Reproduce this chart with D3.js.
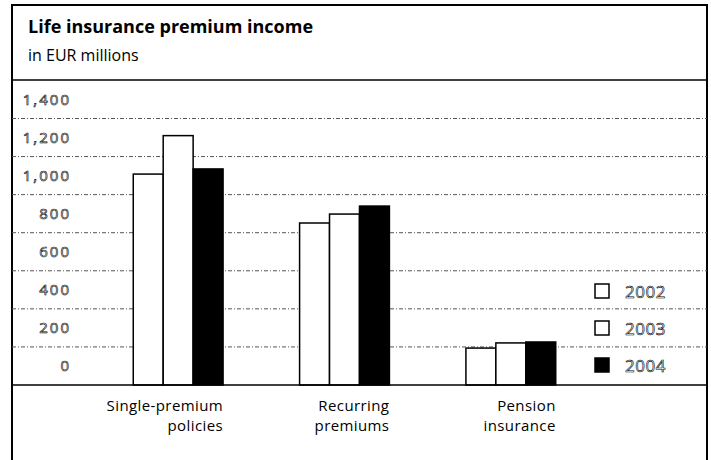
<!DOCTYPE html>
<html>
<head>
<meta charset="utf-8">
<script src="https://cdn.jsdelivr.net/npm/d3@7"></script>
<style>
  body { margin: 0; background: #fff; }
  svg text { font-family: "Open Sans", "Noto Sans", sans-serif; }
</style>
</head>
<body>
<div id="chart"></div>
<script>
// categories and series (EUR millions)
var categories = [["Single-premium", "policies"], ["Recurring", "premiums"], ["Pension", "insurance"]]
var years = ["2002", "2003", "2004"]
var values2002 = [1108, 851, 194]
var values2003 = [1310, 898, 221]
var values2004 = [1135, 940, 226]
var yTicks = [0, 200, 400, 600, 800, 1000, 1200, 1400]

var series = [values2002, values2003, values2004]
var fills = ["#fff", "#fff", "#000"]

var width = 711, height = 460
var svg = d3.select("#chart").append("svg")
    .attr("width", width)
    .attr("height", height)

// outer frame
var frameL = 12, frameR = 707, frameT = 5
svg.append("path")
    .attr("d", "M" + frameL + "," + (height + 5) + "V" + frameT + "H" + frameR + "V" + (height + 5))
    .attr("fill", "none")
    .attr("stroke", "#000")
    .attr("stroke-width", 2)

// title
svg.append("text")
    .attr("x", 28).attr("y", 33)
    .attr("font-size", 18).attr("font-weight", "bold")
    .text("Life insurance premium income")
svg.append("text")
    .attr("x", 28).attr("y", 61)
    .attr("font-size", 16)
    .text("in EUR millions")

// header separator
svg.append("line")
    .attr("x1", frameL).attr("x2", frameR)
    .attr("y1", 80).attr("y2", 80)
    .attr("stroke", "#000").attr("stroke-width", 1.5)

// scales
var y = d3.scaleLinear().domain([0, 1400]).range([385, 118.5])
var x0 = d3.scaleBand()
    .domain(d3.range(categories.length))
    .range([95, 594])
    .paddingInner(0.46)
    .paddingOuter(0.23)
var x1 = d3.scaleBand().domain(years).range([0, x0.bandwidth()])

// gridlines
svg.append("g").selectAll("line")
  .data(yTicks.filter(function(d) { return d > 0 }))
  .enter().append("line")
    .attr("x1", frameL).attr("x2", frameR)
    .attr("y1", function(d) { return y(d) }).attr("y2", function(d) { return y(d) })
    .attr("stroke", "#555")
    .attr("stroke-width", 1)
    .attr("stroke-dasharray", "4,2,1,2")

// y labels (sit in the band above their line), hollow look
svg.append("g").selectAll("text")
  .data(yTicks)
  .enter().append("text")
    .attr("x", 71)
    .attr("y", function(d) { return y(d) - 14 })
    .attr("text-anchor", "end")
    .attr("font-family", "DejaVu Sans")
    .attr("font-size", 15)
    .attr("letter-spacing", 2)
    .attr("fill", "#fff")
    .attr("stroke", "#000")
    .attr("stroke-width", 0.6)
    .text(function(d) { return d3.format(",")(d) })

// bars
var groups = svg.append("g").selectAll("g")
  .data(categories)
  .enter().append("g")
    .attr("transform", function(d, i) { return "translate(" + x0(i) + ",0)" })

groups.selectAll("rect")
  .data(function(d, i) { return years.map(function(yr, j) { return {year: yr, j: j, value: series[j][i]} }) })
  .enter().append("rect")
    .attr("x", function(d) { return x1(d.year) })
    .attr("width", x1.bandwidth())
    .attr("y", function(d) { return y(d.value) })
    .attr("height", function(d) { return y(0) - y(d.value) })
    .attr("fill", function(d) { return fills[d.j] })
    .attr("stroke", "#000")
    .attr("stroke-width", 1.5)

// baseline
svg.append("line")
    .attr("x1", frameL).attr("x2", frameR)
    .attr("y1", y(0)).attr("y2", y(0))
    .attr("stroke", "#000").attr("stroke-width", 1.5)

// category labels, right-aligned to each group, two lines
groups.selectAll("text.cat")
  .data(function(d) { return d })
  .enter().append("text")
    .attr("class", "cat")
    .attr("x", x0.bandwidth())
    .attr("y", function(d, i) { return 411 + i * 20 })
    .attr("text-anchor", "end")
    .attr("font-size", 15)
    .attr("letter-spacing", 0.4)
    .text(function(d) { return d })

// legend
var legend = svg.append("g").selectAll("g")
  .data(years)
  .enter().append("g")
    .attr("transform", function(d, i) { return "translate(595," + (291 + i * 37) + ")" })
legend.append("rect")
    .attr("x", 0).attr("y", -7)
    .attr("width", 14).attr("height", 14)
    .attr("fill", function(d, i) { return fills[i] })
    .attr("stroke", "#000").attr("stroke-width", 1.5)
legend.append("text")
    .attr("x", 30).attr("y", 7)
    .attr("font-family", "DejaVu Sans")
    .attr("font-size", 17)
    .attr("letter-spacing", 0.5)
    .attr("fill", "#fff")
    .attr("stroke", "#000")
    .attr("stroke-width", 0.6)
    .text(function(d) { return d })
</script>
</body>
</html>
